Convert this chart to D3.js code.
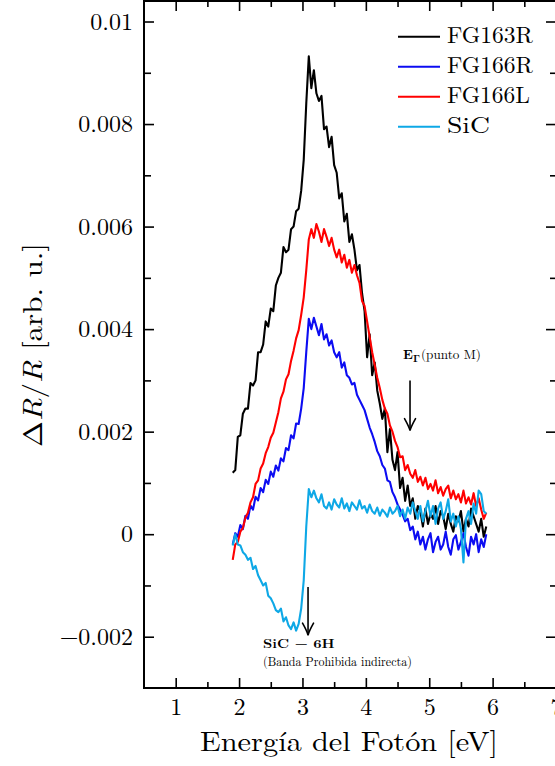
<!DOCTYPE html>
<html><head><meta charset="utf-8">
<script src="https://cdn.jsdelivr.net/npm/d3@7"></script>
<style>
body{margin:0;background:#fff}
svg{display:block}
</style>
</head><body><svg id="c" width="555" height="766"></svg>
<script>
// ---------- data ----------
const energy=[1.90,1.94,1.98,2.02,2.06,2.10,2.14,2.18,2.22,2.26,
2.30,2.34,2.38,2.42,2.46,2.50,2.54,2.58,2.62,2.66,
2.70,2.74,2.78,2.82,2.86,2.90,2.94,2.98,3.02,3.06,
3.10,3.14,3.18,3.22,3.26,3.30,3.34,3.38,3.42,3.46,
3.50,3.54,3.58,3.62,3.66,3.70,3.74,3.78,3.82,3.86,
3.90,3.94,3.98,4.02,4.06,4.10,4.14,4.18,4.22,4.26,
4.30,4.34,4.38,4.42,4.46,4.50,4.54,4.58,4.62,4.66,
4.70,4.74,4.78,4.82,4.86,4.90,4.94,4.98,5.02,5.06,
5.10,5.14,5.18,5.22,5.26,5.30,5.34,5.38,5.42,5.46,
5.50,5.54,5.58,5.62,5.66,5.70,5.74,5.78,5.82,5.86,
5.90];

const fg163r=[0.00120,0.00125,0.00190,0.00193,0.00235,0.00245,0.00245,0.00295,0.00290,0.00300,
0.00355,0.00355,0.00370,0.00415,0.00405,0.00440,0.00435,0.00485,0.00500,0.00510,
0.00560,0.00550,0.00555,0.00595,0.00600,0.00630,0.00635,0.00670,0.00730,0.00840,
0.00932,0.00870,0.00905,0.00860,0.00845,0.00855,0.00790,0.00795,0.00755,0.00775,
0.00720,0.00705,0.00655,0.00665,0.00610,0.00625,0.00570,0.00585,0.00555,0.00515,
0.00525,0.00470,0.00435,0.00345,0.00390,0.00310,0.00335,0.00280,0.00255,0.00225,
0.00245,0.00160,0.00205,0.00145,0.00125,0.00160,0.00090,0.00110,0.00065,0.00095,
0.00055,0.00070,0.00030,0.00055,0.00045,0.00015,0.00050,0.00020,0.00040,0.00030,
0.00055,0.00020,0.00045,0.00035,0.00010,0.00040,0.00020,0.00005,0.00035,0.00025,
0.00045,0.00005,0.00030,0.00015,0.00050,0.00035,0.00020,0.00005,0.00030,-0.00005,
0.00015];

const fg166r=[-0.00020,0.00002,-0.00005,0.00018,0.00010,0.00036,0.00030,0.00056,0.00048,0.00073,
0.00066,0.00090,0.00082,0.00106,0.00098,0.00122,0.00112,0.00134,0.00124,0.00148,
0.00142,0.00168,0.00164,0.00193,0.00187,0.00216,0.00215,0.00245,0.00285,0.00355,
0.00420,0.00400,0.00422,0.00405,0.00388,0.00410,0.00380,0.00390,0.00368,0.00378,
0.00355,0.00345,0.00355,0.00325,0.00335,0.00310,0.00305,0.00292,0.00295,0.00272,
0.00262,0.00252,0.00242,0.00225,0.00208,0.00195,0.00180,0.00162,0.00152,0.00135,
0.00128,0.00105,0.00102,0.00082,0.00072,0.00058,0.00048,0.00038,0.00025,0.00030,
0.00008,0.00015,-0.00010,0.00005,-0.00020,-0.00005,-0.00030,-0.00010,0.00002,-0.00035,
-0.00015,-0.00005,-0.00030,-0.00020,0.00005,-0.00025,-0.00040,-0.00010,-0.00002,-0.00030,
-0.00015,0.00002,-0.00025,-0.00042,-0.00005,-0.00020,0.00000,-0.00035,-0.00010,-0.00025,
0.00000];

const fg166l=[-0.00050,-0.00020,-0.00015,0.00005,0.00012,0.00032,0.00042,0.00062,0.00072,0.00098,
0.00105,0.00128,0.00138,0.00158,0.00170,0.00188,0.00198,0.00218,0.00238,0.00265,
0.00278,0.00302,0.00312,0.00338,0.00358,0.00382,0.00398,0.00428,0.00462,0.00515,
0.00575,0.00595,0.00578,0.00605,0.00590,0.00570,0.00595,0.00580,0.00562,0.00578,
0.00555,0.00540,0.00555,0.00530,0.00545,0.00520,0.00535,0.00510,0.00525,0.00505,
0.00490,0.00455,0.00445,0.00415,0.00385,0.00355,0.00330,0.00305,0.00285,0.00262,
0.00245,0.00235,0.00212,0.00200,0.00182,0.00170,0.00150,0.00152,0.00125,0.00135,
0.00118,0.00110,0.00125,0.00102,0.00112,0.00095,0.00110,0.00088,0.00098,0.00085,
0.00105,0.00080,0.00092,0.00075,0.00088,0.00095,0.00070,0.00085,0.00068,0.00078,
0.00062,0.00085,0.00060,0.00072,0.00058,0.00080,0.00055,0.00070,0.00048,0.00030,
0.00042];

const sic=[-0.00022,0.00000,-0.00020,-0.00022,-0.00035,-0.00040,-0.00050,-0.00046,-0.00068,-0.00062,
-0.00080,-0.00090,-0.00100,-0.00095,-0.00120,-0.00125,-0.00135,-0.00148,-0.00152,-0.00145,
-0.00170,-0.00162,-0.00178,-0.00185,-0.00172,-0.00188,-0.00175,-0.00145,-0.00090,0.00015,
0.00088,0.00072,0.00085,0.00070,0.00062,0.00078,0.00055,0.00050,0.00062,0.00048,
0.00068,0.00058,0.00052,0.00070,0.00050,0.00060,0.00045,0.00062,0.00055,0.00048,
0.00066,0.00050,0.00055,0.00042,0.00058,0.00045,0.00040,0.00052,0.00036,0.00048,
0.00042,0.00034,0.00052,0.00040,0.00045,0.00055,0.00035,0.00048,0.00030,0.00052,
0.00040,0.00062,0.00045,0.00030,0.00055,0.00025,0.00045,0.00065,0.00035,0.00055,
0.00020,0.00050,0.00062,0.00030,0.00045,0.00068,0.00025,0.00040,0.00015,0.00035,
0.00010,-0.00055,0.00030,0.00045,0.00020,0.00060,0.00040,0.00085,0.00078,0.00045,
0.00040];

const seriesNames=["FG163R","FG166R","FG166L","SiC"];
const seriesValues=[fg163r,fg166r,fg166l,sic];
const seriesColors=["#000000","#0c0cf2","#ff0000","#0ea8e6"];

const xTicks=[1,2,3,4,5,6,7];
const xTickLabels=["1","2","3","4","5","6","7"];
const xMinorTicks=[1.5,2.5,3.5,4.5,5.5,6.5];
const yTicks=[-0.002,0,0.002,0.004,0.006,0.008,0.01];
const yTickLabels=["\u22120.002","0","0.002","0.004","0.006","0.008","0.01"];
const yMinorTicks=[-0.001,0.001,0.003,0.005,0.007,0.009];

const xTitle="Energía del Fotón [eV]";
// arrows in data units: energy, start value, tip value
const arrowX=[4.697,3.088];
const arrowFrom=[0.00300,-0.00103];
const arrowTo=[0.00202,-0.00197];
// annotation anchors (data units)
const noteGammaPos=[4.586,0.00341];
const noteSiCPos=[2.378,-0.00222];
const noteSiC2Pos=[2.378,-0.00258];

// ---------- font selection (serif, closest to Computer Modern) ----------
function pickFont(cands){
  const ctx=document.createElement("canvas").getContext("2d");
  const s="Energía del Fotón 0.008 FG163R ΔR/R";
  const w=f=>{ctx.font=f;return ctx.measureText(s).width;};
  const wm=w("40px monospace"), ws=w("40px sans-serif");
  for(const f of cands){
    if(w(`40px "${f}", monospace`)!==wm || w(`40px "${f}", sans-serif`)!==ws) return `"${f}", serif`;
  }
  return "serif";
}
const FONT=pickFont(["Latin Modern Roman","CMU Serif","Liberation Serif","Tinos","Times New Roman","Nimbus Roman","DejaVu Serif","Noto Serif"]);

// ---------- drawing ----------
const svg=d3.select("#c");
const x=d3.scaleLinear().domain([0.5,7.0]).range([144,556]);
const y=d3.scaleLinear().domain([-0.003,0.0104]).range([688,1]);

function styleAxis(g){
  g.select(".domain").remove();
  g.selectAll(".tick line").attr("stroke","#000").attr("stroke-width",1.6);
  g.attr("font-family",null).attr("font-size",null);
  g.selectAll("text").style("font-family",FONT).attr("font-size",24).attr("fill","#000");
  g.selectAll("text").filter(function(){return this.textContent==="";}).remove();
}

// series lines
const line=d3.line().x((d,i)=>x(energy[i])).y(d=>y(d));
seriesValues.forEach((vals,k)=>{
  svg.append("path").datum(vals).attr("d",line)
    .attr("fill","none").attr("stroke",seriesColors[k])
    .attr("stroke-width",2.1).attr("stroke-linejoin","round");
});

// axes
svg.append("g").attr("transform",`translate(${x(0.5)},0)`)
  .call(d3.axisLeft(y).tickValues(yTicks).tickFormat((d,i)=>yTickLabels[i]).tickSize(-10).tickPadding(11))
  .call(styleAxis);
svg.append("g").attr("transform",`translate(${x(0.5)},0)`)
  .call(d3.axisLeft(y).tickValues(yMinorTicks).tickFormat("").tickSize(-7)).call(styleAxis);
svg.append("g").attr("transform",`translate(${x(7.0)},0)`)
  .call(d3.axisRight(y).tickValues(yTicks).tickFormat("").tickSize(-10)).call(styleAxis);
svg.append("g").attr("transform",`translate(${x(7.0)},0)`)
  .call(d3.axisRight(y).tickValues(yMinorTicks).tickFormat("").tickSize(-6)).call(styleAxis);
svg.append("g").attr("transform",`translate(0,${y(-0.003)})`)
  .call(d3.axisBottom(x).tickValues(xTicks).tickFormat((d,i)=>xTickLabels[i]).tickSize(-10).tickPadding(10))
  .call(styleAxis);
svg.append("g").attr("transform",`translate(0,${y(-0.003)})`)
  .call(d3.axisBottom(x).tickValues(xMinorTicks).tickFormat("").tickSize(-6)).call(styleAxis);
svg.append("g").attr("transform",`translate(0,${y(0.0104)})`)
  .call(d3.axisTop(x).tickValues(xTicks).tickFormat("").tickSize(-10)).call(styleAxis);
svg.append("g").attr("transform",`translate(0,${y(0.0104)})`)
  .call(d3.axisTop(x).tickValues(xMinorTicks).tickFormat("").tickSize(-6)).call(styleAxis);

// frame
svg.append("rect").attr("x",x(0.5)).attr("y",y(0.0104))
  .attr("width",x(7.0)-x(0.5)).attr("height",y(-0.003)-y(0.0104))
  .attr("fill","none").attr("stroke","#000").attr("stroke-width",2);

// helper: horizontal stretch so text matches the reference widths
function fitWidth(g,target){
  const w=g.node().getBBox().width;
  return target/w;
}
function addText(g){return g.append("text").style("font-family",FONT).attr("fill","#000");}

// x title
{
  const g=svg.append("g");
  addText(g).attr("text-anchor","middle").attr("font-size",28).text(xTitle);
  const s=fitWidth(g,298);
  g.attr("transform",`translate(349,751) scale(${s},1)`);
}
// y title
{
  const g=svg.append("g");
  const t=addText(g).attr("text-anchor","middle").attr("font-size",27);
  t.append("tspan").text("\u0394");
  t.append("tspan").attr("font-style","italic").text("R");
  t.append("tspan").text("/");
  t.append("tspan").attr("font-style","italic").text("R");
  t.append("tspan").text(" [arb. u.]");
  const s=fitWidth(g,204);
  g.attr("transform",`translate(42,345) rotate(-90) scale(${s},1)`);
}

// legend
const legendWidths=[86,86,83,43];
seriesNames.forEach((name,k)=>{
  const yy=36.7+30*k;
  svg.append("line").attr("x1",398).attr("x2",440).attr("y1",yy).attr("y2",yy)
    .attr("stroke",seriesColors[k]).attr("stroke-width",2);
  const g=svg.append("g");
  addText(g).attr("font-size",23).text(name);
  const s=fitWidth(g,legendWidths[k]);
  g.attr("transform",`translate(447,${yy+6.5}) scale(${s},1)`);
});

// arrows
arrowX.forEach((ax,k)=>{
  const px=x(ax), y0=y(arrowFrom[k]), y1=y(arrowTo[k]);
  svg.append("line").attr("x1",px).attr("x2",px).attr("y1",y0).attr("y2",y1-1)
    .attr("stroke","#000").attr("stroke-width",1.6);
  svg.append("path")
    .attr("d",`M${px-5.5},${y1-12} Q${px-1},${y1-4} ${px},${y1} Q${px+1},${y1-4} ${px+5.5},${y1-12}`)
    .attr("fill","none").attr("stroke","#000").attr("stroke-width",1.6).attr("stroke-linecap","round");
});

// E_Gamma (punto M)
{
  const g=svg.append("g");
  const t=addText(g);
  t.append("tspan").attr("font-weight","bold").attr("font-size",13).text("E");
  t.append("tspan").attr("font-weight","bold").attr("font-size",10).attr("dy",3).text("\u0393");
  t.append("tspan").attr("font-size",13).attr("dy",-3).attr("dx",1).text("(punto M)");
  const s=fitWidth(g,78);
  g.attr("transform",`translate(${x(noteGammaPos[0])},${y(noteGammaPos[1])}) scale(${s},1)`);
}
// SiC - 6H
{
  const g=svg.append("g");
  addText(g).attr("font-weight","bold").attr("font-size",12).text("SiC \u2212 6H");
  const s=fitWidth(g,72);
  g.attr("transform",`translate(${x(noteSiCPos[0])},${y(noteSiCPos[1])}) scale(${s},1)`);
}
{
  const g=svg.append("g");
  addText(g).attr("font-size",13).text("(Banda Prohibida indirecta)");
  const s=fitWidth(g,149);
  g.attr("transform",`translate(${x(noteSiC2Pos[0])},${y(noteSiC2Pos[1])}) scale(${s},1)`);
}
</script>
</body></html>
